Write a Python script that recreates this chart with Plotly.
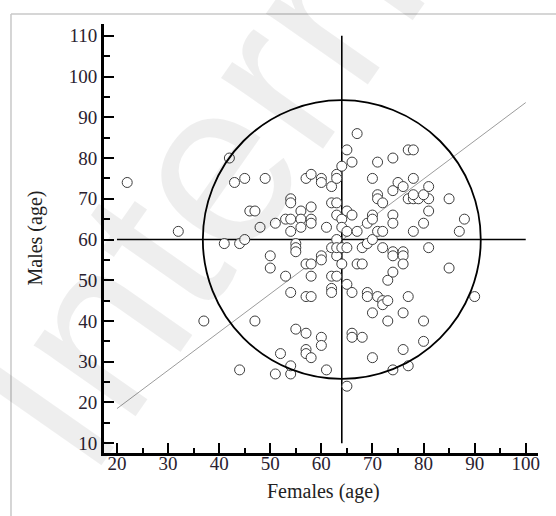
import plotly.graph_objects as go

# Females (x) and Males (y) ages
females = [22, 32, 37, 44, 42, 43, 45, 49, 46, 47, 48, 41, 44, 45, 47,
           50, 50, 51, 53, 54, 54, 54, 54, 53, 54, 52, 51, 54, 54, 55,
           55, 55, 55, 56, 56, 56, 57, 58, 58, 58, 58, 57, 58, 58, 57, 58,
           57, 57, 57, 58, 60, 60, 60, 60, 60, 60, 61, 61, 62, 62, 62, 62,
           62, 62, 63, 63, 63, 63, 63, 63, 63, 63, 64, 64, 64, 64, 64,
           65, 65, 65, 65, 65, 65, 66, 66, 66, 66, 66, 67, 67, 67, 68,
           68, 68, 69, 69, 69, 69, 70, 70, 70, 70, 70, 70, 71, 71, 71,
           71, 71, 72, 72, 72, 72, 72, 73, 73, 73, 74, 74, 74, 74, 74,
           74, 74, 74, 75, 76, 76, 76, 76, 76, 76, 77, 78, 77, 78, 79,
           81, 78, 80, 78, 78, 77, 77, 80, 80, 80, 81, 81, 81, 85, 85,
           87, 88, 90]
males = [74, 62, 40, 28, 80, 74, 75, 75, 67, 67, 63, 59, 59, 60, 40,
         56, 53, 64, 65, 65, 70, 69, 62, 51, 47, 32, 27, 27, 29, 38,
         59, 58, 57, 67, 65, 63, 75, 76, 68, 65, 64, 54, 54, 51, 46, 46,
         37, 33, 32, 31, 75, 74, 56, 55, 36, 34, 63, 28, 73, 69, 58, 51,
         48, 47, 76, 75, 69, 66, 60, 56, 51, 58, 78, 65, 63, 58, 54,
         82, 67, 62, 58, 49, 24, 79, 66, 47, 37, 36, 86, 62, 54, 54,
         58, 36, 64, 59, 47, 46, 75, 66, 65, 60, 42, 31, 79, 71, 70,
         62, 46, 69, 62, 58, 45, 44, 45, 50, 40, 80, 72, 66, 64, 57,
         56, 52, 28, 74, 73, 57, 56, 54, 42, 33, 82, 82, 70, 70, 70,
         70, 71, 71, 75, 62, 46, 29, 64, 40, 35, 73, 67, 58, 70, 53,
         62, 65, 46]

x_ticks = [20, 30, 40, 50, 60, 70, 80, 90, 100]
y_ticks = [10, 20, 30, 40, 50, 60, 70, 80, 90, 100, 110]

mean_f = 64      # vertical reference line
mean_m = 60      # horizontal reference line
circle_rx = 27.2
circle_ry = 34.2
trend_x = [20, 100]
trend_slope = 0.939
trend_icpt = -0.28
trend_y = [trend_slope * v + trend_icpt for v in trend_x]

serif = "Liberation Serif, serif"

fig = go.Figure()

fig.add_trace(go.Scatter(x=trend_x, y=trend_y, mode="lines",
                         line=dict(color="#9c9c9c", width=1),
                         hoverinfo="skip", showlegend=False))
fig.add_trace(go.Scatter(x=[mean_f, mean_f], y=[10, 110], mode="lines",
                         line=dict(color="black", width=1.6),
                         hoverinfo="skip", showlegend=False))
fig.add_trace(go.Scatter(x=[20, 100], y=[mean_m, mean_m], mode="lines",
                         line=dict(color="black", width=1.6),
                         hoverinfo="skip", showlegend=False))

fig.add_shape(type="circle", xref="x", yref="y",
              x0=mean_f - circle_rx, x1=mean_f + circle_rx,
              y0=mean_m - circle_ry, y1=mean_m + circle_ry,
              line=dict(color="black", width=1.8), layer="above")

fig.add_trace(go.Scatter(x=females, y=males, mode="markers",
                         marker=dict(symbol="circle", size=10, color="white",
                                     line=dict(color="#3c3c3c", width=1)),
                         showlegend=False))

# outer light frame
fig.add_shape(type="line", xref="paper", yref="paper",
              x0=-0.2143, x1=1.2, y0=1.0233, y1=1.0233,
              line=dict(color="#c8c8c8", width=1.5))
fig.add_shape(type="line", xref="paper", yref="paper",
              x0=-0.2143, x1=-0.2143, y0=-0.3, y1=1.0233,
              line=dict(color="#c8c8c8", width=1.5))

axis_common = dict(
    showgrid=False, zeroline=False, showline=True, linecolor="black",
    linewidth=3, ticks="inside", ticklen=10, tickwidth=2.2,
    tickcolor="black", tickfont=dict(family=serif, size=19, color="#2a2230"),
    mirror=False,
)

fig.update_xaxes(range=[17.46, 102.4], tickvals=x_ticks,
                 ticklabelstandoff=-9,
                 minor=dict(ticks="inside", ticklen=5, tickwidth=2,
                            tickcolor="black", dtick=5, tick0=0),
                 **axis_common)
fig.update_yaxes(range=[7.6, 112.9], tickvals=y_ticks,
                 minor=dict(ticks="inside", ticklen=6, tickwidth=2,
                            tickcolor="black", dtick=5, tick0=0),
                 **axis_common)

fig.add_annotation(text="Females (age)", xref="paper", yref="paper",
                   x=0.506, y=-0.09, showarrow=False,
                   xanchor="center", yanchor="middle",
                   font=dict(family=serif, size=20, color="#222"))
fig.add_annotation(text="Males (age)", xref="paper", yref="paper",
                   x=-0.157, y=0.502, showarrow=False, textangle=-90,
                   xanchor="center", yanchor="middle",
                   font=dict(family=serif, size=20, color="#222"))

# faint watermark
fig.add_annotation(text="Internet", xref="paper", yref="paper",
                   x=(250 - 104) / 434, y=(453 - 110) / 429,
                   xanchor="center", yanchor="middle",
                   showarrow=False, textangle=-55,
                   font=dict(family="Liberation Sans, sans-serif", size=235,
                             color="rgba(0,0,0,0.065)"))

fig.update_layout(
    width=556, height=516,
    margin=dict(l=104, r=18, t=24, b=63),
    paper_bgcolor="white", plot_bgcolor="white",
    showlegend=False,
)

fig.write_html("out.html",
               config={"displayModeBar": False},
               post_script="document.body.style.margin='0';"
                           "document.body.style.padding='0';")
